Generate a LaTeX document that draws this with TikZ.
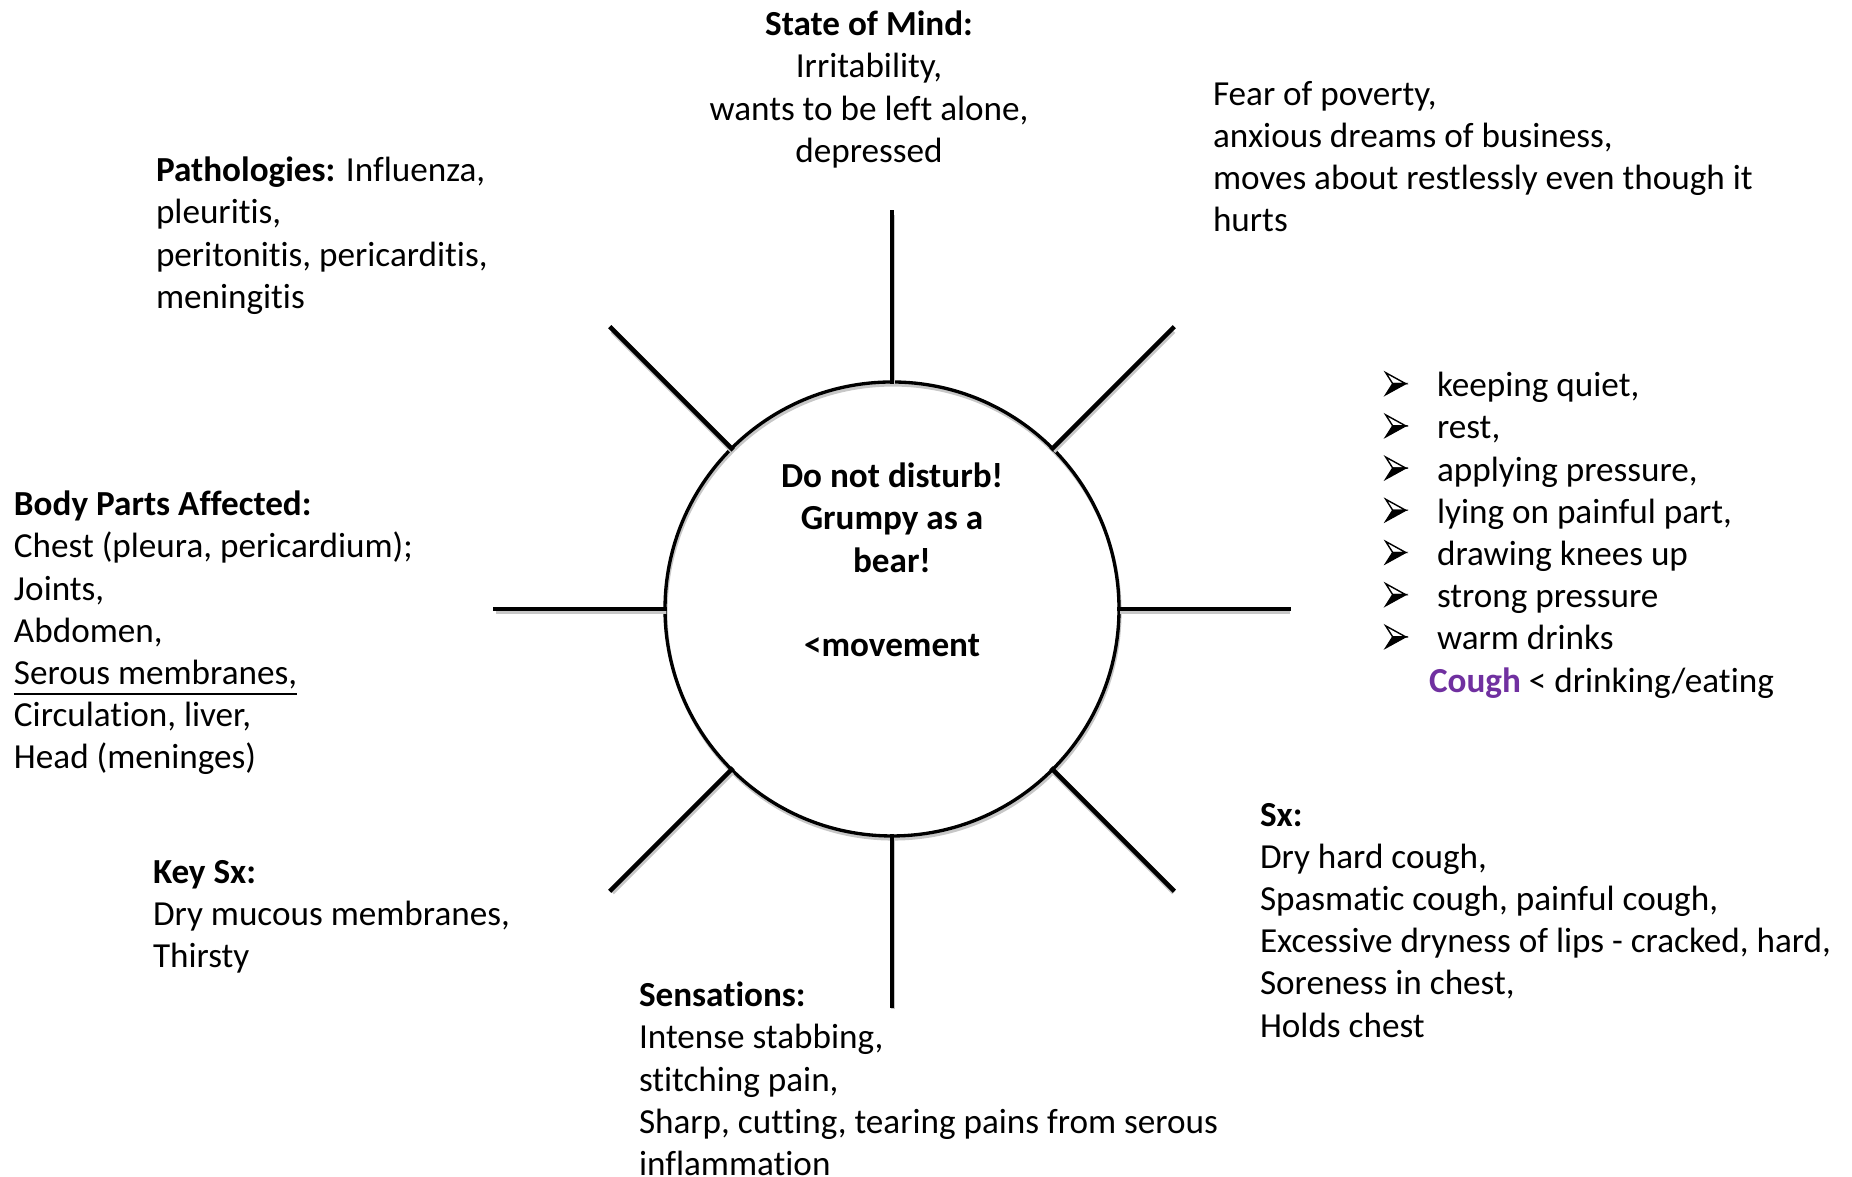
\documentclass[tikz,border=0pt]{standalone}
\usepackage{fontspec}
\setmainfont{Carlito}[Ligatures=NoCommon]
\definecolor{coughpurple}{RGB}{112,48,160}
\newcommand{\arw}{\tikz[baseline=0pt,x=0.01cm,y=0.01cm,line width=0.4pt,line join=miter]{%
  \filldraw[fill=white] (0,24) -- (20,13) -- (7,13) -- cycle;
  \filldraw[fill=black] (0,2) -- (20,13) -- (7,13) -- cycle;}}
\newcommand{\modline}[1]{\makebox[0.52cm][l]{\arw}#1}

\begin{document}
\begin{tikzpicture}[x=0.01cm,y=0.01cm,
  every node/.style={inner sep=0pt,outer sep=0pt,font=\fontsize{10}{12}\selectfont},
  ray/.style={line width=1.3pt,line cap=rect},
  rayshade/.style={line width=1.3pt,draw=black!22},
  blurb/.style={align=left,anchor=north west}]
  \useasboundingbox (0,0) rectangle (1852,1177);
  \node[circle,minimum size=4.54cm] (bear) at (892,568) {};
  \draw[rayshade,line width=0.9pt] ([shift={(1,-3)}]bear.center) circle (227);
  \draw[line width=0.95pt] (bear.center) circle (227);
  \foreach \a in {0,45,...,315} {
    \coordinate (tip\a) at ([shift={(\a:397)}]bear.center);
    \draw[rayshade] ([shift={(1,-3)}]bear.\a) -- ([shift={(1,-3)}]tip\a);
    \draw[ray] (bear.\a) -- (tip\a);
  }
  \node[align=center,font=\bfseries\fontsize{10}{12}\selectfont] (mood) at (892,617)
    {Do not disturb!\\Grumpy as a\\bear!\\[12pt]<movement};
  \node[align=center,anchor=north] (mind) at (869,1166)
    {\textbf{State of Mind:}\\Irritability,\\wants to be left alone,\\depressed};
  \node[blurb] (fear) at (1213,1096)
    {Fear of poverty,\\anxious dreams of business,\\moves about restlessly even though it\\hurts};
  \node[blurb] (patho) at (156,1020)
    {\textbf{Pathologies:} Influenza,\\pleuritis,\\peritonitis, pericarditis,\\meningitis};
  \node[blurb] (body) at (14,686)
    {\textbf{Body Parts Affected:}\\Chest (pleura, pericardium);\\Joints,\\Abdomen,\\
     \underline{Serous membranes,}\\Circulation, liver,\\Head (meninges)};
  \node[blurb] (mods) at (1385,805)
    {\modline{keeping quiet,}\\\modline{rest,}\\\modline{applying pressure,}\\
     \modline{lying on painful part,}\\\modline{drawing knees up}\\
     \modline{strong pressure}\\\modline{warm drinks}\\
     \hspace{0.44cm}{\bfseries\color{coughpurple}Cough} < drinking/eating};
  \node[blurb] (sx) at (1260,374)
    {\textbf{Sx:}\\Dry hard cough,\\Spasmatic cough, painful cough,\\
     Excessive dryness of lips - cracked, hard,\\Soreness in chest,\\Holds chest};
  \node[blurb] (keysx) at (153,317)
    {\textbf{Key Sx:}\\Dry mucous membranes,\\Thirsty};
  \node[blurb] (sens) at (639,195)
    {\textbf{Sensations:}\\Intense stabbing,\\stitching pain,\\
     Sharp, cutting, tearing pains from serous\\inflammation};
\end{tikzpicture}
\end{document}
